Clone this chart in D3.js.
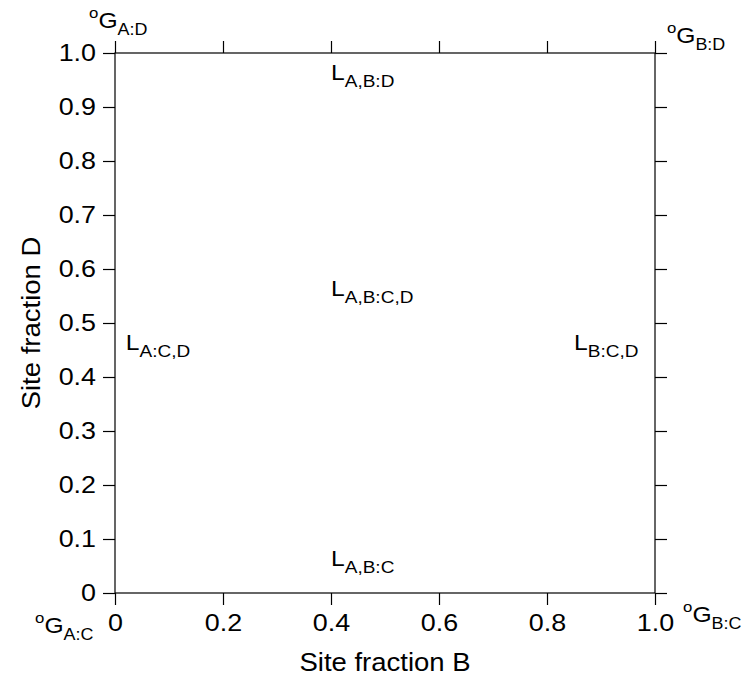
<!DOCTYPE html>
<html>
<head>
<meta charset="utf-8">
<script src="https://cdn.jsdelivr.net/npm/d3@7"></script>
<style>
  html, body { margin: 0; padding: 0; background: #fff; }
  svg text { font-family: "Liberation Sans", Arial, sans-serif; fill: #000; }
</style>
</head>
<body>
<div id="chart"></div>
<script>
// ticks on the four sides
const xTicks = [0, 0.2, 0.4, 0.6, 0.8, 1.0];
const yTicks = [0, 0.1, 0.2, 0.3, 0.4, 0.5, 0.6, 0.7, 0.8, 0.9, 1.0];

// phase region labels (data coordinates of the text start)
const regionLabels = [
  {main: "L", sub: "A,B:D",   x: 0.40, y: 0.95},
  {main: "L", sub: "A,B:C,D", x: 0.40, y: 0.55},
  {main: "L", sub: "A:C,D",   x: 0.02, y: 0.45},
  {main: "L", sub: "B:C,D",   x: 0.85, y: 0.45},
  {main: "L", sub: "A,B:C",   x: 0.40, y: 0.05}
];

// end-member compounds at the corners
const cornerLabels = [
  {sup: "o", main: "G", sub: "A:D", x: -0.048, y: 1.046},
  {sup: "o", main: "G", sub: "B:D", x: 1.022,  y: 1.019},
  {sup: "o", main: "G", sub: "A:C", x: -0.148, y: -0.074},
  {sup: "o", main: "G", sub: "B:C", x: 1.052,  y: -0.054}
];

const xTitle = "Site fraction B";
const yTitle = "Site fraction D";

const W = 741, H = 677;
const margin = {top: 53, right: 86, bottom: 84, left: 115};
const WX = 1.12; // the original lettering runs a bit wider than Arial

const svg = d3.select("#chart").append("svg")
  .attr("width", W)
  .attr("height", H);

const x = d3.scaleLinear().domain([0, 1]).range([margin.left, W - margin.right]);
const y = d3.scaleLinear().domain([0, 1]).range([H - margin.bottom, margin.top]);

const fmt = d => d === 0 ? "0" : d3.format(".1f")(d);

function styleAxis(g, size) {
  g.attr("font-family", null).attr("font-size", null);
  g.select(".domain").remove();
  g.selectAll(".tick line").attr("stroke", "#000").attr("stroke-width", 1.2);
  g.selectAll(".tick text").attr("font-size", size);
}

// left
svg.append("g")
  .attr("transform", `translate(${x(0)},0)`)
  .call(d3.axisLeft(y).tickValues(yTicks).tickFormat(fmt).tickSize(12).tickPadding(6).tickSizeOuter(0))
  .call(g => styleAxis(g, 24))
  .call(g => g.selectAll(".tick text")
    .attr("x", -19 / WX)
    .attr("transform", `scale(${WX},1)`));

// bottom
svg.append("g")
  .attr("transform", `translate(0,${y(0)})`)
  .call(d3.axisBottom(x).tickValues(xTicks).tickFormat(fmt).tickSize(12).tickPadding(9).tickSizeOuter(0))
  .call(g => styleAxis(g, 24))
  .call(g => g.selectAll(".tick text")
    .attr("transform", `scale(${WX},1)`));

// top, ticks only
svg.append("g")
  .attr("transform", `translate(0,${y(1)})`)
  .call(d3.axisTop(x).tickValues(xTicks).tickFormat("").tickSize(12).tickSizeOuter(0))
  .call(g => styleAxis(g, 24));

// right, ticks only
svg.append("g")
  .attr("transform", `translate(${x(1)},0)`)
  .call(d3.axisRight(y).tickValues(yTicks).tickFormat("").tickSize(12).tickSizeOuter(0))
  .call(g => styleAxis(g, 24));

// frame
svg.append("rect")
  .attr("x", x(0)).attr("y", y(1))
  .attr("width", x(1) - x(0)).attr("height", y(0) - y(1))
  .attr("fill", "none")
  .attr("stroke", "#000")
  .attr("stroke-width", 1.2);

// axis titles
svg.append("text")
  .attr("transform", `translate(${(x(0) + x(1)) / 2},671) scale(1.1,1)`)
  .attr("text-anchor", "middle")
  .attr("font-size", 25)
  .text(xTitle);

svg.append("text")
  .attr("transform", `translate(40,${(y(0) + y(1)) / 2}) rotate(-90) scale(1.1,1)`)
  .attr("text-anchor", "middle")
  .attr("font-size", 25)
  .text(yTitle);

// region labels
regionLabels.forEach(d => {
  const t = svg.append("text")
    .attr("transform", `translate(${x(d.x)},${y(d.y)}) scale(${WX},1)`);
  t.append("tspan").attr("font-size", 22).text(d.main);
  t.append("tspan").attr("font-size", 17).attr("dy", 7).text(d.sub);
});

// corner labels
cornerLabels.forEach(d => {
  const t = svg.append("text")
    .attr("transform", `translate(${x(d.x)},${y(d.y)}) scale(${WX},1)`);
  t.append("tspan").attr("font-size", 15).attr("dy", -10).text(d.sup);
  t.append("tspan").attr("font-size", 22).attr("dy", 10).text(d.main);
  t.append("tspan").attr("font-size", 16).attr("dy", 7).text(d.sub);
});
</script>
</body>
</html>
